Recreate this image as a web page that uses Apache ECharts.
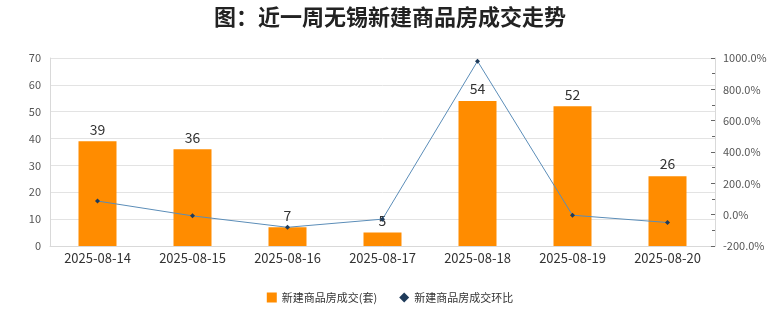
<!DOCTYPE html>
<html><head><meta charset="utf-8">
<script src="https://cdn.jsdelivr.net/npm/echarts@6/dist/echarts.min.js"></script>
<style>html,body{margin:0;padding:0;background:#fff}#c{width:780px;height:328px}</style>
</head><body><div id="c"></div>
<script>
const categories = ['2025-08-14','2025-08-15','2025-08-16','2025-08-17','2025-08-18','2025-08-19','2025-08-20'];
const deals = [39, 36, 7, 5, 54, 52, 26];
const momPct = [87, -7.7, -80.6, -28.6, 980, -3.7, -50];
const leftTicks = {min: 0, max: 70, interval: 10};
const rightTicks = {min: -200, max: 1000, interval: 200};

const chart = echarts.init(document.getElementById('c'));
const font = '"Noto Sans CJK SC", "Noto Sans", sans-serif';
chart.setOption({
  animation: false,
  title: {text: '图：近一周无锡新建商品房成交走势', left: 'center', top: 1,
    textStyle: {fontSize: 22, fontWeight: 'bold', color: '#222', fontFamily: font}},
  grid: {left: 50, right: 65, top: 58, bottom: 82},
  legend: {bottom: 20, itemWidth: 10, itemHeight: 10, itemGap: 22,
    textStyle: {fontSize: 11, color: '#333', fontFamily: font},
    data: [{name: '新建商品房成交(套)', icon: 'rect'}, {name: '新建商品房成交环比', icon: 'diamond'}]},
  xAxis: {type: 'category', data: categories,
    axisLine: {lineStyle: {color: '#d9d9d9'}}, axisTick: {show: false},
    axisLabel: {fontSize: 13, color: '#333', margin: 6, fontFamily: font}},
  yAxis: [
    {type: 'value', min: leftTicks.min, max: leftTicks.max, interval: leftTicks.interval,
      axisLine: {show: true, lineStyle: {color: '#d9d9d9'}}, axisTick: {show: false},
      splitLine: {lineStyle: {color: '#e3e3e3'}},
      axisLabel: {fontSize: 11, color: '#555', margin: 9, fontFamily: font}},
    {type: 'value', min: rightTicks.min, max: rightTicks.max, interval: rightTicks.interval,
      axisLine: {show: true, lineStyle: {color: '#d9d9d9'}},
      axisTick: {show: true, inside: true, length: 4, lineStyle: {color: '#666'}},
      minorTick: {show: true, splitNumber: 2, length: 3, lineStyle: {color: '#666'}},
      splitLine: {show: false},
      axisLabel: {fontSize: 11, color: '#555', margin: 8, fontFamily: font,
        formatter: v => v.toFixed(1) + '%'}}
  ],
  series: [
    {name: '新建商品房成交(套)', type: 'bar', data: deals, barWidth: 38,
      itemStyle: {color: '#FF8C00'},
      label: {show: true, position: 'top', fontSize: 14, color: '#333', fontFamily: font}},
    {name: '新建商品房成交环比', type: 'line', yAxisIndex: 1, data: momPct,
      symbol: 'diamond', symbolSize: 5,
      lineStyle: {color: '#5B8DB8', width: 1},
      itemStyle: {color: '#1F3B5A'}}
  ]
});
</script></body></html>
